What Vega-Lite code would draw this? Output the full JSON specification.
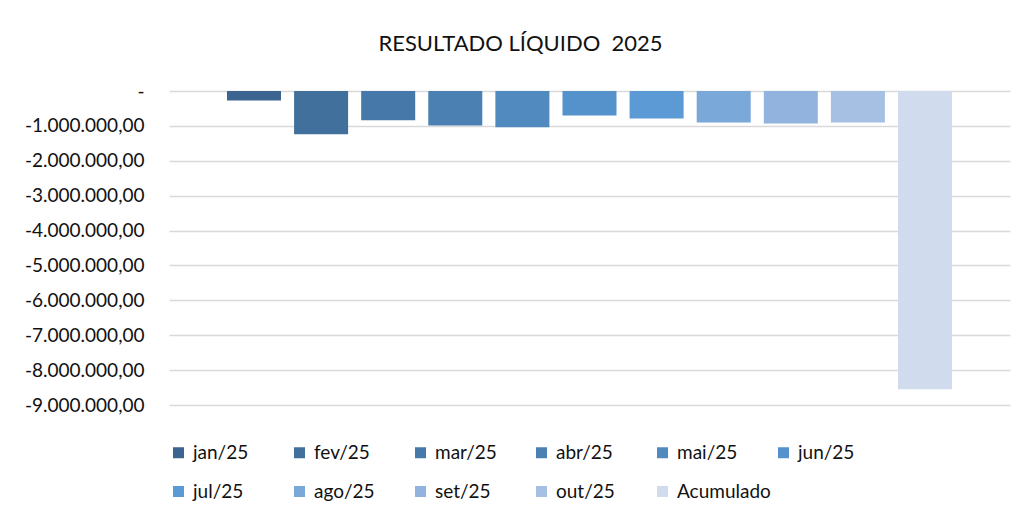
{
  "$schema": "https://vega.github.io/schema/vega-lite/v6.json",
  "autosize": "none",
  "width": 841,
  "height": 314,
  "padding": {"left": 169, "top": 91, "right": 11, "bottom": 109},
  "background": "#ffffff",
  "title": {
    "text": "RESULTADO LÍQUIDO\u00a0 2025",
    "font": "Lato",
    "fontSize": 22,
    "fontWeight": "normal",
    "color": "#111111",
    "anchor": "middle",
    "frame": "group",
    "baseline": "alphabetic",
    "offset": 9,
    "dx": -69
  },
  "data": {
    "values": [
      {"periodo": "jan/25", "valor": -270000},
      {"periodo": "fev/25", "valor": -1240000},
      {"periodo": "mar/25", "valor": -840000},
      {"periodo": "abr/25", "valor": -990000},
      {"periodo": "mai/25", "valor": -1040000},
      {"periodo": "jun/25", "valor": -700000},
      {"periodo": "jul/25", "valor": -790000},
      {"periodo": "ago/25", "valor": -900000},
      {"periodo": "set/25", "valor": -930000},
      {"periodo": "out/25", "valor": -900000},
      {"periodo": "Acumulado", "valor": -8550000}
    ]
  },
  "mark": {"type": "bar"},
  "encoding": {
    "x": {
      "field": "periodo",
      "type": "nominal",
      "sort": null,
      "axis": null,
      "scale": {"paddingInner": 0.195, "paddingOuter": 0.864}
    },
    "y": {
      "field": "valor",
      "type": "quantitative",
      "scale": {"domain": [-9000000, 0], "nice": false},
      "axis": {
        "title": null,
        "values": [0, -1000000, -2000000, -3000000, -4000000, -5000000, -6000000, -7000000, -8000000, -9000000],
        "format": ",.2f",
        "labelExpr": "datum.value == 0 ? '-  ' : datum.label",
        "ticks": false,
        "domain": false,
        "grid": true,
        "gridColor": "#d9d9d9",
        "gridWidth": 1.5,
        "labelFont": "Lato",
        "labelFontSize": 19,
        "labelColor": "#111111",
        "labelPadding": 25
      }
    },
    "color": {
      "field": "periodo",
      "type": "nominal",
      "scale": {
        "domain": ["jan/25", "fev/25", "mar/25", "abr/25", "mai/25", "jun/25", "jul/25", "ago/25", "set/25", "out/25", "Acumulado"],
        "range": ["#3b6590", "#42709c", "#4679a9", "#4b80b3", "#518abf", "#5592cc", "#5b9ad5", "#7aa8d8", "#91b3de", "#a6c0e3", "#d0dcee"]
      },
      "legend": {
        "orient": "bottom",
        "direction": "horizontal",
        "columns": 6,
        "title": null,
        "symbolType": "square",
        "symbolSize": 121,
        "symbolStrokeWidth": 0,
        "labelFont": "Lato",
        "labelFontSize": 19,
        "labelColor": "#111111",
        "labelOffset": 5,
        "gridAlign": "all",
        "columnPadding": 3,
        "rowPadding": 19,
        "offset": 38
      }
    }
  },
  "config": {
    "locale": {
      "number": {"decimal": ",", "thousands": ".", "grouping": [3], "currency": ["R$ ", ""], "minus": "-"}
    },
    "view": {"stroke": null}
  }
}
